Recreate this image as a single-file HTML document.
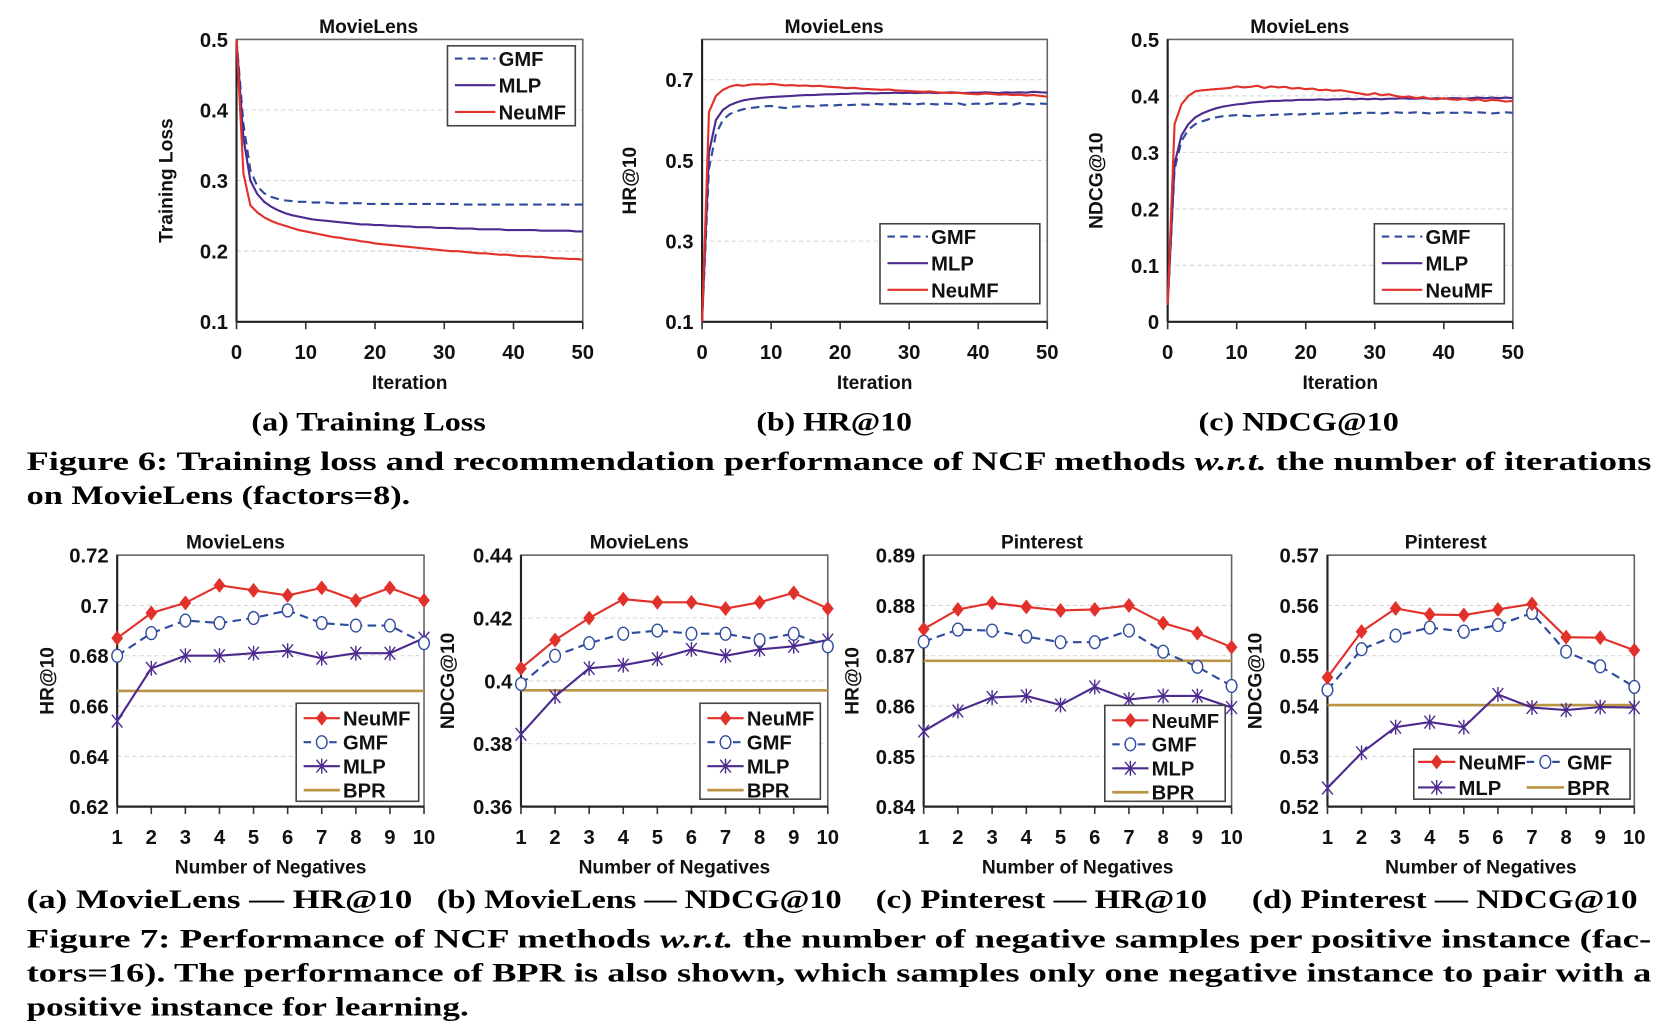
<!DOCTYPE html>
<html><head><meta charset="utf-8">
<style>
html,body{margin:0;padding:0;background:#fff;width:1662px;height:1024px;overflow:hidden}
svg{display:block}
.tk{font-family:"Liberation Sans",sans-serif;font-weight:bold;font-size:19px;fill:#111}
.ttl{font-family:"Liberation Sans",sans-serif;font-weight:bold;font-size:18px;fill:#111}
.cap{font-family:"Liberation Serif",serif;font-weight:bold;font-size:25px;fill:#000}
</style></head>
<body>
<svg id="fig" width="1662" height="1024" viewBox="0 0 1560 961" preserveAspectRatio="none" xmlns="http://www.w3.org/2000/svg">
<text class="cap" x="236" y="404" textLength="220" lengthAdjust="spacingAndGlyphs">(a) Training Loss</text>
<text class="cap" x="710" y="404" textLength="146" lengthAdjust="spacingAndGlyphs">(b) HR@10</text>
<text class="cap" x="1125" y="404" textLength="188" lengthAdjust="spacingAndGlyphs">(c) NDCG@10</text>
<text class="cap" x="25" y="441" textLength="1525" lengthAdjust="spacingAndGlyphs">Figure 6: Training loss and recommendation performance of NCF methods <tspan font-style="italic">w.r.t.</tspan> the number of iterations</text>
<text class="cap" x="25" y="473" textLength="360" lengthAdjust="spacingAndGlyphs">on MovieLens (factors=8).</text>
<text class="cap" x="25" y="852" textLength="362" lengthAdjust="spacingAndGlyphs">(a) MovieLens — HR@10</text>
<text class="cap" x="410" y="852" textLength="380" lengthAdjust="spacingAndGlyphs">(b) MovieLens — NDCG@10</text>
<text class="cap" x="822" y="852" textLength="311" lengthAdjust="spacingAndGlyphs">(c) Pinterest — HR@10</text>
<text class="cap" x="1175" y="852" textLength="362" lengthAdjust="spacingAndGlyphs">(d) Pinterest — NDCG@10</text>
<text class="cap" x="25" y="889" textLength="1525" lengthAdjust="spacingAndGlyphs">Figure 7: Performance of NCF methods <tspan font-style="italic">w.r.t.</tspan> the number of negative samples per positive instance (fac-</text>
<text class="cap" x="25" y="921" textLength="1525" lengthAdjust="spacingAndGlyphs">tors=16). The performance of BPR is also shown, which samples only one negative instance to pair with a</text>
<text class="cap" x="25" y="953" textLength="415" lengthAdjust="spacingAndGlyphs">positive instance for learning.</text>
</svg>
<script>
// ---- Figure 6 data (iterations 0..50) ----
const lossGMF=[0.500,0.380,0.315,0.292,0.282,0.277,0.274,0.272,0.271,0.270,
0.270,0.269,0.269,0.269,0.268,0.268,0.268,0.268,0.268,0.267,
0.267,0.267,0.267,0.267,0.267,0.267,0.267,0.267,0.267,0.267,
0.267,0.267,0.267,0.266,0.266,0.266,0.266,0.266,0.266,0.266,
0.266,0.266,0.266,0.266,0.266,0.266,0.266,0.266,0.266,0.266,0.266];
const lossMLP=[0.500,0.360,0.300,0.281,0.270,0.263,0.258,0.254,0.251,0.249,
0.247,0.245,0.244,0.243,0.242,0.241,0.240,0.239,0.238,0.238,
0.237,0.237,0.236,0.236,0.235,0.235,0.234,0.234,0.234,0.233,
0.233,0.233,0.232,0.232,0.232,0.231,0.231,0.231,0.231,0.230,
0.230,0.230,0.230,0.230,0.229,0.229,0.229,0.229,0.229,0.228,0.228];
const lossNeuMF=[0.500,0.310,0.265,0.255,0.248,0.243,0.239,0.236,0.233,0.230,
0.228,0.226,0.224,0.222,0.220,0.219,0.217,0.216,0.214,0.213,
0.211,0.210,0.209,0.208,0.207,0.206,0.205,0.204,0.203,0.202,
0.201,0.200,0.200,0.199,0.198,0.197,0.197,0.196,0.195,0.195,
0.194,0.193,0.193,0.192,0.192,0.191,0.190,0.190,0.189,0.189,0.188];
const hrGMF=[0.100,0.480,0.565,0.600,0.615,0.622,0.627,0.630,0.632,0.634,
0.635,0.632,0.630,0.633,0.634,0.635,0.634,0.636,0.637,0.636,
0.638,0.637,0.638,0.639,0.638,0.640,0.639,0.640,0.639,0.641,
0.640,0.639,0.641,0.640,0.639,0.641,0.640,0.642,0.638,0.640,
0.641,0.639,0.642,0.640,0.641,0.638,0.642,0.640,0.639,0.641,0.640];
const hrMLP=[0.100,0.520,0.600,0.625,0.637,0.644,0.649,0.652,0.654,0.656,
0.657,0.658,0.659,0.660,0.661,0.662,0.662,0.663,0.664,0.664,
0.665,0.665,0.666,0.666,0.667,0.666,0.667,0.667,0.668,0.667,
0.668,0.667,0.668,0.668,0.667,0.668,0.669,0.668,0.667,0.668,
0.668,0.669,0.668,0.667,0.669,0.668,0.669,0.668,0.670,0.669,0.668];
const hrNeuMF=[0.100,0.620,0.660,0.675,0.683,0.687,0.685,0.688,0.689,0.688,
0.690,0.688,0.686,0.687,0.685,0.686,0.684,0.685,0.683,0.682,
0.681,0.679,0.680,0.678,0.677,0.676,0.675,0.676,0.674,0.673,
0.672,0.671,0.670,0.671,0.669,0.668,0.667,0.668,0.666,0.665,
0.664,0.666,0.665,0.663,0.664,0.662,0.663,0.661,0.662,0.660,0.658];
const ndGMF=[0.030,0.270,0.320,0.340,0.350,0.355,0.359,0.362,0.364,0.365,
0.366,0.365,0.364,0.365,0.366,0.366,0.367,0.367,0.368,0.367,
0.368,0.368,0.369,0.368,0.369,0.369,0.370,0.369,0.370,0.370,
0.370,0.369,0.370,0.371,0.370,0.370,0.371,0.370,0.369,0.370,
0.371,0.370,0.370,0.371,0.370,0.371,0.370,0.369,0.370,0.371,0.370];
const ndMLP=[0.030,0.280,0.330,0.350,0.362,0.369,0.374,0.378,0.381,0.383,
0.385,0.386,0.388,0.389,0.390,0.391,0.391,0.392,0.392,0.393,
0.393,0.393,0.394,0.393,0.394,0.394,0.395,0.394,0.395,0.394,
0.395,0.394,0.395,0.395,0.396,0.395,0.395,0.396,0.395,0.396,
0.395,0.396,0.396,0.395,0.396,0.397,0.396,0.397,0.396,0.397,0.396];
const ndNeuMF=[0.030,0.350,0.385,0.400,0.408,0.410,0.411,0.412,0.413,0.414,
0.417,0.415,0.416,0.418,0.414,0.417,0.415,0.416,0.413,0.414,
0.412,0.413,0.410,0.411,0.409,0.410,0.408,0.406,0.404,0.402,
0.405,0.401,0.403,0.400,0.398,0.399,0.396,0.398,0.395,0.394,
0.396,0.394,0.393,0.395,0.392,0.394,0.391,0.393,0.392,0.390,0.391];
const iterTicks=["0","10","20","30","40","50"];
const lossTicks=["0.1","0.2","0.3","0.4","0.5"];
const hrTicks6=["0.1","0.3","0.5","0.7"];
const ndTicks6=["0","0.1","0.2","0.3","0.4","0.5"];

// ---- Figure 7 data (negatives 1..10) ----
const negatives=[1,2,3,4,5,6,7,8,9,10];
const mlHrNeuMF=[0.687,0.697,0.701,0.708,0.706,0.704,0.707,0.702,0.707,0.702];
const mlHrGMF=[0.680,0.689,0.694,0.693,0.695,0.698,0.693,0.692,0.692,0.685];
const mlHrMLP=[0.654,0.675,0.680,0.680,0.681,0.682,0.679,0.681,0.681,0.687];
const mlHrBPR=0.666;
const mlNdNeuMF=[0.404,0.413,0.420,0.426,0.425,0.425,0.423,0.425,0.428,0.423];
const mlNdGMF=[0.399,0.408,0.412,0.415,0.416,0.415,0.415,0.413,0.415,0.411];
const mlNdMLP=[0.383,0.395,0.404,0.405,0.407,0.410,0.408,0.410,0.411,0.413];
const mlNdBPR=0.397;
const piHrNeuMF=[0.8753,0.8792,0.8805,0.8797,0.8790,0.8792,0.8800,0.8765,0.8745,0.8717];
const piHrGMF=[0.8728,0.8752,0.8750,0.8738,0.8727,0.8727,0.8750,0.8708,0.8678,0.8640];
const piHrMLP=[0.8550,0.8590,0.8617,0.8620,0.8602,0.8638,0.8613,0.8620,0.8620,0.8597];
const piHrBPR=0.8690;
const piNdNeuMF=[0.5457,0.5548,0.5594,0.5582,0.5581,0.5592,0.5603,0.5537,0.5536,0.5511];
const piNdGMF=[0.5432,0.5513,0.5540,0.5556,0.5548,0.5561,0.5585,0.5508,0.5479,0.5438];
const piNdMLP=[0.5237,0.5307,0.5358,0.5368,0.5358,0.5423,0.5397,0.5392,0.5398,0.5397];
const piNdBPR=0.5402;
const mlHrTicks=["0.62","0.64","0.66","0.68","0.7","0.72"];
const mlNdTicks=["0.36","0.38","0.4","0.42","0.44"];
const piHrTicks=["0.84","0.85","0.86","0.87","0.88","0.89"];
const piNdTicks=["0.52","0.53","0.54","0.55","0.56","0.57"];

const NS="http://www.w3.org/2000/svg";
const svg=document.getElementById('fig');
const C={GMF:'#2f4b9c',MLP:'#4c2a8e',NeuMF:'#e2302a',BPR:'#b99445'};
function mk(tag,attrs,parent){const e=document.createElementNS(NS,tag);for(const k in attrs)e.setAttribute(k,attrs[k]);(parent||svg).appendChild(e);return e;}
function txt(s,attrs,parent){const e=mk('text',attrs,parent);e.textContent=s;return e;}

function frame(g,b,yTicks,xTicks,xmin,xmax,title,ytitle,xtitle,ytx,ymaxOv){
  const ymin=parseFloat(yTicks[0]),ymax=ymaxOv||parseFloat(yTicks[yTicks.length-1]);
  const X=v=>b.x0+(v-xmin)/(xmax-xmin)*(b.x1-b.x0);
  const Y=v=>b.y1-(v-ymin)/(ymax-ymin)*(b.y1-b.y0);
  yTicks.forEach(t=>{const v=parseFloat(t);const y=Y(v);
    if(v>ymin&&v<ymax){const gl=mk('line',{x1:b.x0,x2:b.x1,y1:y,y2:y,stroke:'#d4d4d4','stroke-width':1,'stroke-dasharray':'4 3'},g);
      
      }
    const tl=txt(t,{class:'tk',x:b.x0-8,y:y+7,'text-anchor':'end'},g);
    
    
  });
  xTicks.forEach(t=>{const x=X(parseFloat(t));
    mk('line',{x1:x,x2:x,y1:b.y1,y2:b.y1+7,stroke:'#333','stroke-width':1.5},g);
    const tl=txt(t,{class:'tk',x:x,y:b.y1+35,'text-anchor':'middle'},g);
    
    
  });
  const r=mk('rect',{x:b.x0,y:b.y0,width:b.x1-b.x0,height:b.y1-b.y0,fill:'none',stroke:'#666','stroke-width':1.5},g);
  
  
  mk('line',{x1:b.x0,x2:b.x0,y1:b.y0,y2:b.y1,stroke:'#222','stroke-width':2},g);
  mk('line',{x1:b.x0,x2:b.x1,y1:b.y1,y2:b.y1,stroke:'#222','stroke-width':2},g);
  const tt=txt(title,{class:'ttl',x:b.tx,y:b.y0-6,'text-anchor':'middle'},g);
  
  
  const xt=txt(xtitle,{class:'ttl',x:(b.x0+b.x1)/2,y:b.y1+63,'text-anchor':'middle'},g);
  
  
  const cy=(b.y0+b.y1)/2;
  const yt=txt(ytitle,{class:'ttl',x:ytx,y:cy,'text-anchor':'middle',transform:`rotate(-90 ${ytx} ${cy})`},g);
  
  
  return {X,Y};
}
function marker(g,kind,x,y){
  if(kind==='NeuMF'){mk('polygon',{points:`${x},${y-7} ${x+5.5},${y} ${x},${y+7} ${x-5.5},${y}`,fill:C.NeuMF},g);}
  else if(kind==='GMF'){mk('ellipse',{cx:x,cy:y,rx:5,ry:6,fill:'#fff',stroke:C.GMF,'stroke-width':1.3},g);}
  else if(kind==='MLP'){mk('path',{d:`M${x-5} ${y-6}L${x+5} ${y+6}M${x+5} ${y-6}L${x-5} ${y+6}M${x} ${y-7}L${x} ${y+7}`,stroke:C.MLP,'stroke-width':1.3,fill:'none'},g);}
}
function series(g,ax,xs,ys,kind,markers,name){
  const d=ys.map((v,i)=>(i?'L':'M')+ax.X(xs[i]).toFixed(2)+' '+ax.Y(v).toFixed(2)).join('');
  const p=mk('path',{d:d,fill:'none',stroke:C[kind],'stroke-width':2,'stroke-dasharray':kind==='GMF'?'8 5':'none'},g);
  
  
  if(markers)ys.forEach((v,i)=>marker(g,kind,ax.X(xs[i]),ax.Y(v)));
}
function legend(g,box,entries,markers){
  const r=mk('rect',{x:box.x,y:box.y,width:box.w,height:box.h,fill:'#fff',stroke:'#444','stroke-width':1.5},g);
  
  
  entries.forEach(e=>{
    const lg=mk('g',{},g);
    
    
    mk('line',{x1:e.x,x2:e.x+e.len,y1:e.y,y2:e.y,stroke:C[e.k],'stroke-width':e.k==='BPR'?2.5:2,'stroke-dasharray':e.k==='GMF'?'7 5':'none'},lg);
    if(markers)marker(lg,e.k,e.x+e.len/2,e.y);
    txt(e.k,{class:'tk',x:e.x+e.len+3,y:e.y+7},lg);
  });
}
function seriesIdx(arr){return arr.map((_,i)=>i);}

// Figure 6
const f6=[
 {b:{x0:222,x1:547,y0:37,y1:302,tx:346},ticks:lossTicks,yt:'Training Loss',ytx:162,d:[lossGMF,lossMLP,lossNeuMF],lg:{x:420,y:43,w:120,h:75},ly:[55,80,105],name:'chart-training-loss'},
 {b:{x0:659,x1:983,y0:37,y1:302,tx:783},ticks:hrTicks6,ymaxOverride:0.8,yt:'HR@10',ytx:597,d:[hrGMF,hrMLP,hrNeuMF],lg:{x:826,y:210,w:150,h:75},ly:[222,247,272],name:'chart-hr-iterations'},
 {b:{x0:1096,x1:1420,y0:37,y1:302,tx:1220},ticks:ndTicks6,yt:'NDCG@10',ytx:1035,d:[ndGMF,ndMLP,ndNeuMF],lg:{x:1290,y:210,w:122,h:75},ly:[222,247,272],name:'chart-ndcg-iterations'}
];
f6.forEach(c=>{
  const g=mk('g',{});
  
  
  const ax=frame(g,c.b,c.ticks,iterTicks,0,50,'MovieLens',c.yt,'Iteration',c.ytx,c.ymaxOverride);
  const xs=seriesIdx(c.d[0]);
  series(g,ax,xs,c.d[0],'GMF',false,'series-gmf');
  series(g,ax,xs,c.d[1],'MLP',false,'series-mlp');
  series(g,ax,xs,c.d[2],'NeuMF',false,'series-neumf');
  legend(g,c.lg,[{k:'GMF',x:c.lg.x+7,y:c.ly[0],len:38},{k:'MLP',x:c.lg.x+7,y:c.ly[1],len:38},{k:'NeuMF',x:c.lg.x+7,y:c.ly[2],len:38}],false);
});

// Figure 7
const f7=[
 {b:{x0:110,x1:398,y0:521,y1:757,tx:221},ticks:mlHrTicks,title:'MovieLens',yt:'HR@10',ytx:50,d:[mlHrNeuMF,mlHrGMF,mlHrMLP,mlHrBPR],lg:{x:278,y:660,w:115,h:92},name:'chart-movielens-hr'},
 {b:{x0:489,x1:777,y0:521,y1:757,tx:600},ticks:mlNdTicks,title:'MovieLens',yt:'NDCG@10',ytx:426,d:[mlNdNeuMF,mlNdGMF,mlNdMLP,mlNdBPR],lg:{x:657,y:660,w:113,h:90},name:'chart-movielens-ndcg'},
 {b:{x0:867,x1:1156,y0:521,y1:757,tx:978},ticks:piHrTicks,title:'Pinterest',yt:'HR@10',ytx:806,d:[piHrNeuMF,piHrGMF,piHrMLP,piHrBPR],lg:{x:1037,y:662,w:113,h:90},name:'chart-pinterest-hr'},
 {b:{x0:1246,x1:1534,y0:521,y1:757,tx:1357},ticks:piNdTicks,title:'Pinterest',yt:'NDCG@10',ytx:1184,d:[piNdNeuMF,piNdGMF,piNdMLP,piNdBPR],lg:{x:1327,y:703,w:203,h:47},two:true,name:'chart-pinterest-ndcg'}
];
f7.forEach(c=>{
  const g=mk('g',{});
  
  
  const ax=frame(g,c.b,c.ticks,negatives.map(String),1,10,c.title,c.yt,'Number of Negatives',c.ytx);
  const by=ax.Y(c.d[3]);
  const bl=mk('line',{x1:c.b.x0,x2:c.b.x1,y1:by,y2:by,stroke:C.BPR,'stroke-width':2.5},g);
  
  
  series(g,ax,negatives,c.d[2],'MLP',true,'series-mlp');
  series(g,ax,negatives,c.d[1],'GMF',true,'series-gmf');
  series(g,ax,negatives,c.d[0],'NeuMF',true,'series-neumf');
  const L=c.lg;let ents;
  if(c.two){ents=[{k:'NeuMF',x:L.x+4,y:L.y+12,len:35},{k:'GMF',x:L.x+106,y:L.y+12,len:35},{k:'MLP',x:L.x+4,y:L.y+36,len:35},{k:'BPR',x:L.x+106,y:L.y+36,len:35}];}
  else{ents=['NeuMF','GMF','MLP','BPR'].map((k,i)=>({k:k,x:L.x+7,y:L.y+14+i*22.5,len:34}));}
  legend(g,L,ents,true);
});
</script>
</body></html>
